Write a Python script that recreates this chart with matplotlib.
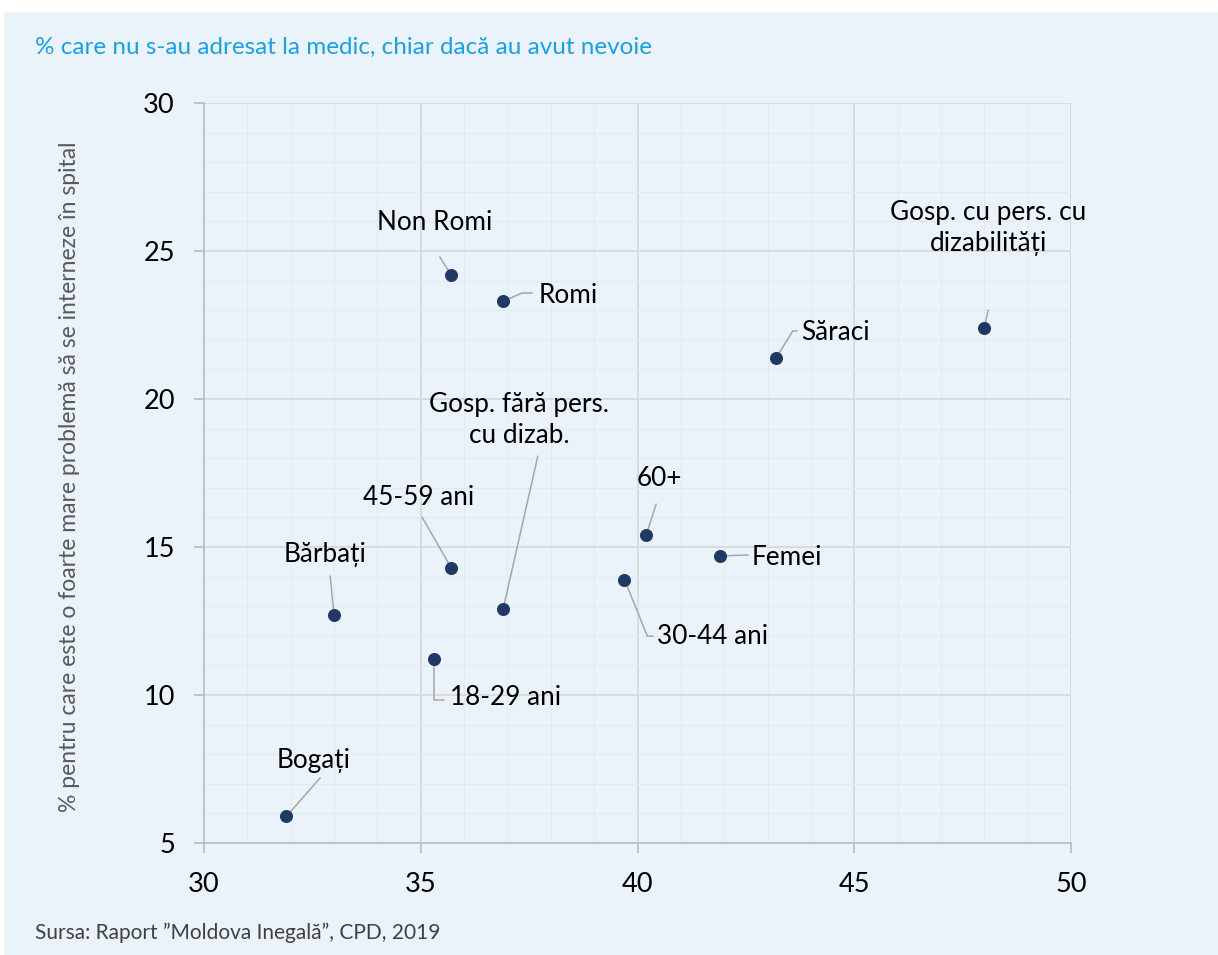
import matplotlib
matplotlib.use("Agg")
import matplotlib.pyplot as plt
from matplotlib.ticker import MultipleLocator
from matplotlib.patches import Rectangle

plt.rcParams['font.family'] = ['Lato', 'DejaVu Sans']

# date: % fara acces la medic (x) si % cu probleme de internare (y)
groups = ["Bogați", "Bărbați", "18-29 ani", "45-59 ani", "Gosp. fără pers.\ncu dizab.",
          "Non Romi", "Romi", "30-44 ani", "60+", "Femei", "Săraci",
          "Gosp. cu pers. cu\ndizabilități"]
x_medic = [31.9, 33.0, 35.3, 35.7, 36.9, 35.7, 36.9, 39.7, 40.2, 41.9, 43.2, 48.0]
y_spital = [5.9, 12.7, 11.2, 14.3, 12.9, 24.2, 23.3, 13.9, 15.4, 14.7, 21.4, 22.4]

# pozitia etichetelor: (x text, y text, aliniere, x linie, y linie, unghi cot)
label_pos = [
    (32.54, 7.80, 'center', 32.68, 7.20, None),
    (32.79, 14.73, 'center', 32.91, 14.02, None),
    (35.67, 9.90, 'left', 35.54, 9.83, 90),
    (34.94, 16.66, 'center', 35.03, 16.01, None),
    (37.27, 19.29, 'center', 37.70, 18.07, None),
    (35.33, 25.95, 'center', 35.44, 24.80, None),
    (37.73, 23.51, 'left', 37.57, 23.58, 24),
    (40.45, 11.96, 'left', 40.36, 11.99, -68),
    (40.50, 17.33, 'center', 40.43, 16.45, None),
    (42.64, 14.66, 'left', 42.55, 14.73, None),
    (43.77, 22.26, 'left', 43.68, 22.30, 58),
    (48.09, 25.78, 'center', 48.09, 23.01, None),
]

bg = '#EAF2FA'
fig = plt.figure(figsize=(12.18, 9.55), dpi=100)
fig.patch.set_facecolor('white')
fig.patches.append(Rectangle((4 / 1218, 0), 1, 1 - 12 / 955, transform=fig.transFigure,
                             facecolor=bg, edgecolor='none', zorder=-10))

ax = fig.add_axes([0.1675, 0.1173, 0.7118, 0.7748])
ax.set_facecolor(bg)
ax.set_xlim(30, 50)
ax.set_ylim(5, 30)
ax.xaxis.set_major_locator(MultipleLocator(5))
ax.yaxis.set_major_locator(MultipleLocator(5))
ax.xaxis.set_minor_locator(MultipleLocator(1))
ax.yaxis.set_minor_locator(MultipleLocator(1))
ax.grid(which='major', color='#D9D9D9', linewidth=1.3)
ax.grid(which='minor', color='#E3EAF2', linewidth=0.8)
ax.set_axisbelow(True)

for s in ['top', 'right']:
    ax.spines[s].set_visible(False)
for s in ['left', 'bottom']:
    ax.spines[s].set_color('#BFBFBF')
    ax.spines[s].set_linewidth(1.3)

ax.tick_params(which='major', length=7, color='#BFBFBF', width=1.3, labelsize=19.5, pad=14)
ax.tick_params(which='minor', length=0)

ax.scatter(x_medic, y_spital, s=70, color='#1F3864', zorder=5)

for (tx, ty, ha, lx, ly, ang), px, py, name in zip(label_pos, x_medic, y_spital, groups):
    ax.text(tx, ty, name, ha=ha, va='center', fontsize=18.8, color='black',
            linespacing=1.3, zorder=6)
    if ang is None:
        cs = 'arc3'
    else:
        cs = 'angle,angleA=0,angleB=%d,rad=0' % ang
    ax.annotate('', xy=(px, py), xytext=(lx, ly),
                arrowprops=dict(arrowstyle='-', color='#A6A6A6', lw=1.1,
                                shrinkA=0, shrinkB=0, connectionstyle=cs),
                zorder=4)

ax.set_ylabel('% pentru care este o foarte mare problemă să se interneze în spital',
              fontsize=16.5, color='#595959')
ax.yaxis.set_label_coords(-0.143, 0.495)

fig.text(35 / 1218, 1 - 47 / 955, '% care nu s-au adresat la medic, chiar dacă au avut nevoie',
         fontsize=17.5, color='#1BA1DE', va='center', ha='left')
fig.text(35 / 1218, 1 - 933 / 955, 'Sursa: Raport ”Moldova Inegală”, CPD, 2019',
         fontsize=15, color='#404040', va='center', ha='left')

fig.savefig('out.png', dpi=100, facecolor=fig.get_facecolor())
